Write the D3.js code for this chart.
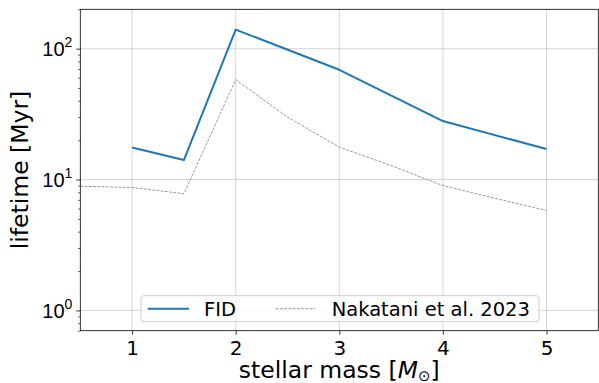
<!DOCTYPE html>
<html>
<head>
<meta charset="utf-8">
<script src="https://cdn.jsdelivr.net/npm/d3@7"></script>
<style>
html,body{margin:0;padding:0;background:#fff;}
svg{display:block;font-family:"DejaVu Sans",sans-serif;}
</style>
</head>
<body>
<svg id="chart" width="599" height="383"></svg>
<script>
// Data
const fidMass = [1, 1.5, 2, 3, 4, 5];
const fidLifetime = [17.6, 14.1, 140, 69, 28, 17.1];
const nakMass = [0.5, 1, 1.5, 2, 2.5, 3, 3.5, 4, 4.5, 5];
const nakLifetime = [8.9, 8.7, 7.8, 58, 30, 17.7, 12.8, 9.0, 7.2, 5.8];
const xTicks = [1, 2, 3, 4, 5];
const yTickExps = [0, 1, 2];
const seriesNames = ["FID", "Nakatani et al. 2023"];

const svg = d3.select("#chart");
const L = 80.3, R = 598.3, T = 9.3, B = 330.7;
const x = d3.scaleLinear().domain([0.5, 5.5]).range([L, R]);
const y = d3.scaleLog().domain([0.7, 200]).range([B, T]);

// grid
const grid = svg.append("g");
xTicks.forEach(v => grid.append("line").attr("x1", x(v)).attr("x2", x(v)).attr("y1", T).attr("y2", B)
  .attr("stroke", "#b0b0b0").attr("stroke-opacity", 0.5).attr("stroke-width", 1));
yTickExps.forEach(e => grid.append("line").attr("x1", L).attr("x2", R).attr("y1", y(Math.pow(10, e))).attr("y2", y(Math.pow(10, e)))
  .attr("stroke", "#b0b0b0").attr("stroke-opacity", 0.5).attr("stroke-width", 1));

// clip
svg.append("clipPath").attr("id", "clip").append("rect").attr("x", L).attr("y", T).attr("width", R - L).attr("height", B - T);

const line = d3.line().x(d => x(d[0])).y(d => y(d[1]));
const plot = svg.append("g").attr("clip-path", "url(#clip)");
plot.append("path").datum(d3.zip(nakMass, nakLifetime)).attr("d", line)
  .attr("fill", "none").attr("stroke", "#808080").attr("stroke-width", 0.8).attr("stroke-dasharray", "2.96,1.28");
plot.append("path").datum(d3.zip(fidMass, fidLifetime)).attr("d", line)
  .attr("fill", "none").attr("stroke", "#1f77b4").attr("stroke-width", 2).attr("stroke-linejoin", "round");

// axes
const xAxis = d3.axisBottom(x).tickValues(xTicks).tickSize(4).tickPadding(5).tickFormat(d3.format("d"));
const gx = svg.append("g").attr("transform", `translate(0,${B})`).call(xAxis);
gx.select(".domain").remove();
gx.selectAll("line").attr("stroke", "#000").attr("stroke-width", 0.8);
gx.selectAll("text").attr("font-size", 20).attr("font-family", "DejaVu Sans").attr("fill", "#000").attr("dy", "0.75em");

const minorVals = [];
for (let e = -1; e <= 2; e++) for (let m = 2; m <= 9; m++) {
  const v = m * Math.pow(10, e);
  if (v >= 0.7 && v <= 200) minorVals.push(v);
}
const gyMinor = svg.append("g").attr("transform", `translate(${L},0)`)
  .call(d3.axisLeft(y).tickValues(minorVals).tickSize(2.2).tickFormat(""));
gyMinor.select(".domain").remove();
gyMinor.selectAll("line").attr("stroke", "#000").attr("stroke-width", 0.6);

const gy = svg.append("g").attr("transform", `translate(${L},0)`)
  .call(d3.axisLeft(y).tickValues(yTickExps.map(e => Math.pow(10, e))).tickSize(4).tickFormat(""));
gy.select(".domain").remove();
gy.selectAll("line").attr("stroke", "#000").attr("stroke-width", 0.8);
gy.selectAll(".tick").each(function(d) {
  const t = d3.select(this).append("text").attr("x", -8).attr("y", 7).attr("text-anchor", "end")
    .attr("font-size", 20).attr("fill", "#000");
  t.append("tspan").text("10");
  t.append("tspan").attr("font-size", 14).attr("dy", -9).text(Math.round(Math.log10(d)));
});

// spines
svg.append("rect").attr("x", L).attr("y", T).attr("width", R - L).attr("height", B - T)
  .attr("fill", "none").attr("stroke", "#000").attr("stroke-width", 0.8);

// labels
svg.append("text").attr("x", (L + R) / 2).attr("y", 377.5).attr("text-anchor", "middle").attr("font-size", 23.5)
  .attr("fill", "#000")
  .call(t => {
    t.append("tspan").text("stellar mass [");
    t.append("tspan").attr("font-style", "italic").text("M");
    t.append("tspan").attr("font-size", 15).attr("dy", 3).text("⊙");
    t.append("tspan").attr("dy", -3).text("]");
  });
svg.append("text").attr("transform", `translate(28,${(T + B) / 2}) rotate(-90)`).attr("text-anchor", "middle")
  .attr("font-size", 23.5).attr("fill", "#000").text("lifetime [Myr]");

// legend
const lg = svg.append("g");
lg.append("rect").attr("x", 141).attr("y", 295.7).attr("width", 398).attr("height", 26).attr("rx", 3)
  .attr("fill", "#fff").attr("fill-opacity", 0.8).attr("stroke", "#cccccc").attr("stroke-width", 1);
const ly = 308.7;
lg.append("line").attr("x1", 147.7).attr("x2", 189).attr("y1", ly).attr("y2", ly)
  .attr("stroke", "#1f77b4").attr("stroke-width", 2);
lg.append("text").attr("x", 204).attr("y", ly + 7).attr("font-size", 19.5).attr("fill", "#000").text(seriesNames[0]);
lg.append("line").attr("x1", 275.7).attr("x2", 315).attr("y1", ly).attr("y2", ly)
  .attr("stroke", "#808080").attr("stroke-width", 0.8).attr("stroke-dasharray", "2.96,1.28");
lg.append("text").attr("x", 331.7).attr("y", ly + 7).attr("font-size", 19.5).attr("fill", "#000").text(seriesNames[1]);
</script>
</body>
</html>
